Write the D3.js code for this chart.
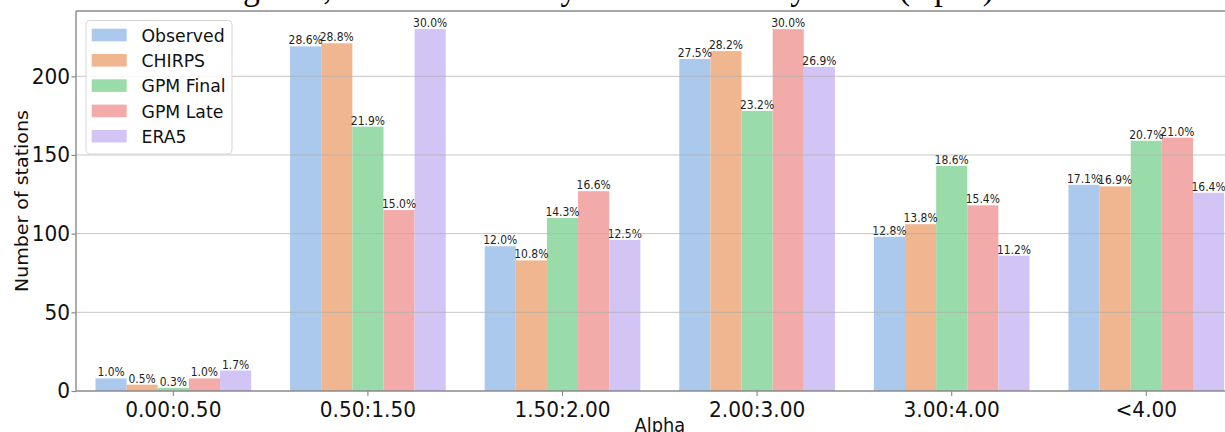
<!DOCTYPE html>
<html>
<head>
<meta charset="utf-8">
<script src="https://cdn.jsdelivr.net/npm/d3@7"></script>
<style>
  html, body { margin: 0; padding: 0; background: #fff; overflow: hidden; }
  svg { display: block; }
</style>
</head>
<body>
<svg id="chart" width="1225" height="432"></svg>
<script>
// Alpha classes and station counts per rainfall product
const categories = ["0.00:0.50", "0.50:1.50", "1.50:2.00", "2.00:3.00", "3.00:4.00", "<4.00"];
const seriesNames = ["Observed", "CHIRPS", "GPM Final", "GPM Late", "ERA5"];
const observed = [8, 219, 92, 211, 98, 131];
const chirps   = [4, 221, 83, 216, 106, 130];
const gpmFinal = [2, 168, 110, 178, 143, 159];
const gpmLate  = [8, 115, 127, 230, 118, 161];
const era5     = [13, 230, 96, 206, 86, 126];
const totalStations = 767;
const yTicks = [0, 50, 100, 150, 200];
const seriesColors = ["#abc9ec", "#f0b690", "#99dcaa", "#f3abaa", "#d2c5f5"];

const seriesValues = [observed, chirps, gpmFinal, gpmLate, era5];
const series = seriesNames.map((name, j) => ({ name, color: seriesColors[j], values: seriesValues[j] }));

// Figure is rendered slightly condensed horizontally
const S = 0.935;
const X = v => v / S;          // convert final pixel x into inner coordinates

const plot = { left: 76, right: 1243.6, top: 11, bottom: 391 };

const svg = d3.select("#chart");
const root = svg.append("g").attr("transform", `scale(${S},1)`);

const x0 = d3.scaleBand()
  .domain(categories)
  .range([X(plot.left), X(plot.right)])
  .paddingInner(0.2)
  .paddingOuter(0.1);

const x1 = d3.scaleBand()
  .domain(seriesNames)
  .range([0, x0.bandwidth()])
  .padding(0);

const y = d3.scaleLinear().domain([0, 241.5]).range([plot.bottom, plot.top]);

const pct = d3.format(".1%");

// Title (sits above the axes)
root.append("text")
  .attr("x", X(100))
  .attr("y", -1)
  .attr("font-family", "'Liberation Serif', 'Times New Roman', serif")
  .attr("font-size", 36)
  .attr("fill", "#000")
  .text("Rainfall regimes, sites classified by rainfall intensity index (alpha)");

// Bars
const groups = root.append("g").selectAll("g")
  .data(categories)
  .join("g")
  .attr("transform", c => `translate(${x0(c)},0)`);

groups.selectAll("rect")
  .data((c, i) => series.map(s => ({ s, v: s.values[i] })))
  .join("rect")
  .attr("x", d => x1(d.s.name))
  .attr("y", d => y(d.v))
  .attr("width", x1.bandwidth())
  .attr("height", d => y(0) - y(d.v))
  .attr("fill", d => d.s.color);

// Grid lines
root.append("g").selectAll("line")
  .data(yTicks.filter(t => t > 0))
  .join("line")
  .attr("x1", X(plot.left))
  .attr("x2", X(plot.right))
  .attr("y1", d => y(d))
  .attr("y2", d => y(d))
  .attr("stroke", "#b0b0b0")
  .attr("stroke-opacity", 0.75)
  .attr("stroke-width", 1);

// Percentage labels above bars
groups.selectAll("text.pct")
  .data((c, i) => series.map(s => ({ s, v: s.values[i] })))
  .join("text")
  .attr("class", "pct")
  .attr("x", d => x1(d.s.name) + x1.bandwidth() / 2)
  .attr("y", d => y(d.v) - 2)
  .attr("text-anchor", "middle")
  .attr("font-family", "'DejaVu Sans', sans-serif")
  .attr("font-size", 11.5)
  .attr("fill", "#222")
  .text(d => pct(d.v / totalStations));

// Y axis
const yAxis = root.append("g")
  .attr("transform", `translate(${X(plot.left)},0)`)
  .call(d3.axisLeft(y).tickValues(yTicks).tickSize(X(4.5)).tickPadding(X(1.5)).tickSizeOuter(0));
yAxis.select(".domain").remove();
yAxis.selectAll(".tick line").attr("stroke", "#8a8a8a").attr("stroke-width", 1.2);
yAxis.selectAll(".tick text")
  .attr("font-family", "'DejaVu Sans', sans-serif")
  .attr("font-size", 21.5)
  .attr("fill", "#111");

// X axis
const xAxis = root.append("g")
  .attr("transform", `translate(0,${plot.bottom})`)
  .call(d3.axisBottom(x0).tickSize(5).tickSizeOuter(0));
xAxis.select(".domain").remove();
xAxis.selectAll(".tick line").attr("stroke", "#8a8a8a").attr("stroke-width", 1.2);
xAxis.selectAll(".tick text")
  .attr("y", 26)
  .attr("dy", 0)
  .attr("font-family", "'DejaVu Sans', sans-serif")
  .attr("font-size", 21.5)
  .attr("fill", "#111");

// Spines
const spine = root.append("g").attr("stroke", "#8a8a8a").attr("stroke-width", 1.5).attr("fill", "none");
spine.append("line").attr("x1", X(plot.left)).attr("x2", X(plot.left)).attr("y1", plot.top).attr("y2", plot.bottom);
spine.append("line").attr("x1", X(plot.left)).attr("x2", X(plot.right)).attr("y1", plot.top).attr("y2", plot.top);
spine.append("line").attr("x1", X(plot.left)).attr("x2", X(plot.right)).attr("y1", plot.bottom).attr("y2", plot.bottom);

// Axis titles
root.append("text")
  .attr("transform", `translate(${X(28)},${(plot.top + plot.bottom) / 2}) rotate(-90)`)
  .attr("text-anchor", "middle")
  .attr("font-family", "'DejaVu Sans', sans-serif")
  .attr("font-size", 19)
  .attr("fill", "#111")
  .text("Number of stations");

root.append("text")
  .attr("x", (X(plot.left) + X(plot.right)) / 2)
  .attr("y", 432)
  .attr("text-anchor", "middle")
  .attr("font-family", "'DejaVu Sans', sans-serif")
  .attr("font-size", 19)
  .attr("fill", "#111")
  .text("Alpha");

// Legend
const legend = root.append("g");
legend.append("rect")
  .attr("x", X(86)).attr("y", 20.5)
  .attr("width", X(232) - X(86)).attr("height", 133.5)
  .attr("rx", X(4)).attr("ry", 4)
  .attr("fill", "#fff").attr("fill-opacity", 0.85)
  .attr("stroke", "#d6d6d6").attr("stroke-width", 1);

const rowY0 = 35, rowStep = 25.3;
const items = legend.selectAll("g.item")
  .data(series)
  .join("g")
  .attr("class", "item")
  .attr("transform", (d, i) => `translate(0,${rowY0 + i * rowStep})`);
items.append("rect")
  .attr("x", X(91.7)).attr("y", -6.3)
  .attr("width", X(126.7) - X(91.7)).attr("height", 12.6)
  .attr("fill", d => d.color);
items.append("text")
  .attr("x", X(141.5)).attr("y", 0)
  .attr("dy", "0.36em")
  .attr("font-family", "'DejaVu Sans', sans-serif")
  .attr("font-size", 18.5)
  .attr("fill", "#111")
  .text(d => d.name);
</script>
</body>
</html>
